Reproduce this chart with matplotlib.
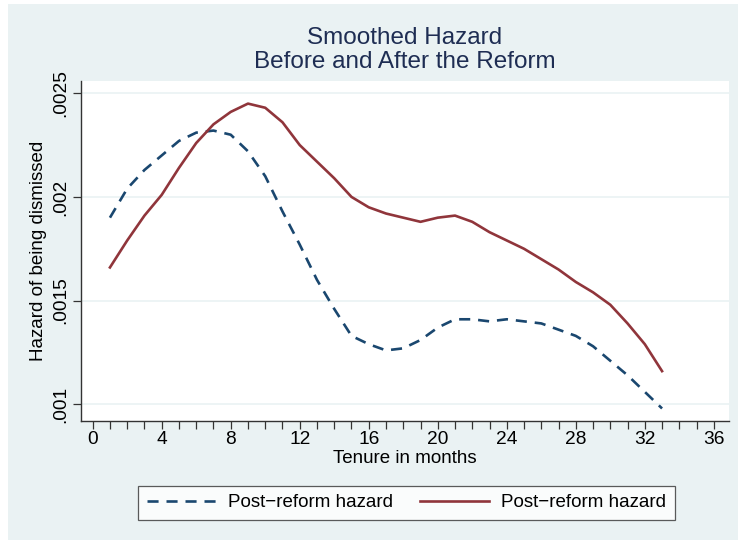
import numpy as np
import matplotlib.pyplot as plt
from matplotlib.patches import Rectangle

plt.rcParams['font.family'] = ['Liberation Sans', 'DejaVu Sans']

# smoothed hazard estimates by month of tenure
months = np.arange(1, 34)
hazard_dashed = [0.00190, 0.00204, 0.00213, 0.00220, 0.00227, 0.00231, 0.00232,
                 0.00230, 0.00222, 0.00210, 0.00193, 0.00177, 0.00160, 0.00146,
                 0.00133, 0.00129, 0.00126, 0.00127, 0.00131, 0.00137, 0.00141,
                 0.00141, 0.00140, 0.00141, 0.00140, 0.00139, 0.00136, 0.00133,
                 0.00128, 0.00121, 0.00114, 0.00106, 0.00098]
hazard_solid = [0.00166, 0.00179, 0.00191, 0.00201, 0.00214, 0.00226, 0.00235,
                0.00241, 0.00245, 0.00243, 0.00236, 0.00225, 0.00217, 0.00209,
                0.00200, 0.00195, 0.00192, 0.00190, 0.00188, 0.00190, 0.00191,
                0.00188, 0.00183, 0.00179, 0.00175, 0.00170, 0.00165, 0.00159,
                0.00154, 0.00148, 0.00139, 0.00129, 0.00116]
labels = ["Post\u2212reform hazard", "Post\u2212reform hazard"]

xticks = np.arange(0, 37, 4)
yticks = [0.001, 0.0015, 0.002, 0.0025]
ytick_labels = [".001", ".0015", ".002", ".0025"]

bg = "#eaf2f3"
navy = "#1a476f"
maroon = "#90353b"

fig = plt.figure(figsize=(7.38, 5.4), dpi=100, facecolor="white")
# graph region
fig.patches.append(Rectangle((8 / 738, 0), 1, 1 - 4 / 540, transform=fig.transFigure,
                             facecolor=bg, edgecolor="none", zorder=-10))

ax = fig.add_axes([81 / 738, 1 - 420.7 / 540, 648 / 738, 339.7 / 540])
ax.set_facecolor("white")

l1, = ax.plot(months, hazard_dashed, color=navy, lw=1.9, dashes=(4.2, 3.0))
l2, = ax.plot(months, hazard_solid, color=maroon, lw=1.9)

ax.set_xlim(-0.678, 36.88)
ax.set_ylim(0.000921, 0.002559)

ax.set_xticks(xticks)
ax.set_xticks(np.arange(0, 37, 1), minor=True)
ax.set_yticks(yticks)
ax.set_yticklabels(ytick_labels, rotation=90, va="center")
ax.tick_params(axis="both", which="both", direction="out", length=5.5, width=0.9,
               color="#333333", labelsize=13.8, labelcolor="black")
ax.tick_params(axis="x", pad=2)
ax.tick_params(axis="y", pad=3)

ax.grid(axis="y", color=bg, lw=1.2)
ax.set_axisbelow(True)
for side in ["top", "right"]:
    ax.spines[side].set_visible(False)
for side in ["left", "bottom"]:
    ax.spines[side].set_color("#333333")
    ax.spines[side].set_linewidth(1.0)

ax.set_xlabel("Tenure in months", fontsize=13.5, labelpad=1)
ax.set_ylabel("Hazard of being dismissed", fontsize=13.5, labelpad=4)

fig.text(405 / 738, 1 - 50 / 540, "Smoothed Hazard\nBefore and After the Reform",
         ha="center", va="center", fontsize=17.5, color="#1e2d53", linespacing=1.12)

leg = fig.legend([l1, l2], labels, loc="center", bbox_to_anchor=(406.5 / 738, 1 - 502.5 / 540),
                 ncol=2, fontsize=13.5, frameon=True, fancybox=False, handlelength=3.7,
                 handletextpad=0.65, columnspacing=1.4, borderpad=0.45)
leg.get_frame().set_edgecolor("#333333")
leg.get_frame().set_linewidth(0.9)

fig.savefig("out.png", dpi=100, facecolor=fig.get_facecolor())
